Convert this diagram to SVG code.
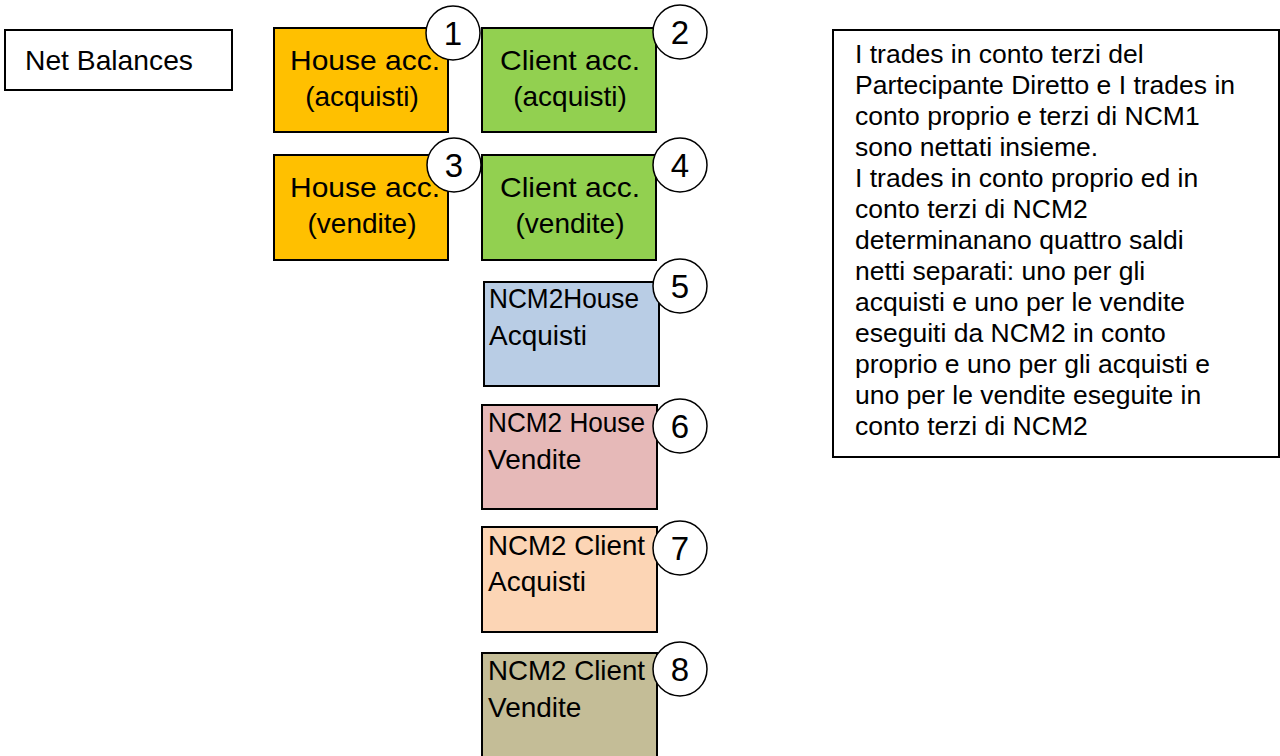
<svg xmlns="http://www.w3.org/2000/svg" width="1280" height="756" viewBox="0 0 1280 756">
<style>
text{font-family:"Liberation Sans",Arial,sans-serif;fill:#000}
.box{stroke:#000;stroke-width:2}
.lbl{font-size:28px}
.mid{text-anchor:middle}
.num{font-size:33px;text-anchor:middle}
.badge{fill:#fff;stroke:#000;stroke-width:1.5}
.note{font-size:26.5px}
</style>
<rect width="1280" height="756" fill="#fff"/>
<g id="net-balances">
<rect class="box" x="5" y="30" width="227" height="60" fill="#fff"/>
<text class="lbl" x="25" y="70" textLength="168" lengthAdjust="spacingAndGlyphs">Net Balances</text>
</g>
<g id="house-acquisti">
<rect class="box" x="274" y="28" width="174" height="104" fill="#FFC000"/>
<text class="lbl mid" x="365" y="70" textLength="150" lengthAdjust="spacingAndGlyphs">House acc.</text>
<text class="lbl mid" x="362" y="106">(acquisti)</text>
</g>
<g id="badge-1"><circle class="badge" cx="453" cy="33" r="27"/><text class="num" x="453" y="45">1</text></g>
<g id="client-acquisti">
<rect class="box" x="482" y="28" width="174" height="104" fill="#92D050"/>
<text class="lbl mid" x="570" y="70" textLength="140" lengthAdjust="spacingAndGlyphs">Client acc.</text>
<text class="lbl mid" x="570" y="106">(acquisti)</text>
</g>
<g id="badge-2"><circle class="badge" cx="680" cy="32" r="27"/><text class="num" x="680" y="44">2</text></g>
<g id="house-vendite">
<rect class="box" x="274" y="155" width="174" height="105" fill="#FFC000"/>
<text class="lbl mid" x="365" y="197" textLength="150" lengthAdjust="spacingAndGlyphs">House acc.</text>
<text class="lbl mid" x="362" y="233">(vendite)</text>
</g>
<g id="badge-3"><circle class="badge" cx="454" cy="165" r="27"/><text class="num" x="454" y="177">3</text></g>
<g id="client-vendite">
<rect class="box" x="482" y="155" width="174" height="105" fill="#92D050"/>
<text class="lbl mid" x="570" y="197" textLength="140" lengthAdjust="spacingAndGlyphs">Client acc.</text>
<text class="lbl mid" x="570" y="233">(vendite)</text>
</g>
<g id="badge-4"><circle class="badge" cx="680" cy="165" r="27"/><text class="num" x="680" y="177">4</text></g>
<g id="ncm2-house-acquisti">
<rect class="box" x="484" y="282" width="175" height="104" fill="#B9CDE5"/>
<text class="lbl" x="489" y="308" textLength="150" lengthAdjust="spacingAndGlyphs">NCM2House</text>
<text class="lbl" x="489" y="345">Acquisti</text>
</g>
<g id="badge-5"><circle class="badge" cx="680" cy="286" r="27"/><text class="num" x="680" y="298">5</text></g>
<g id="ncm2-house-vendite">
<rect class="box" x="482" y="405" width="175" height="104" fill="#E6B9B8"/>
<text class="lbl" x="488" y="432" textLength="157" lengthAdjust="spacingAndGlyphs">NCM2 House</text>
<text class="lbl" x="488" y="469">Vendite</text>
</g>
<g id="badge-6"><circle class="badge" cx="680" cy="426" r="27"/><text class="num" x="680" y="438">6</text></g>
<g id="ncm2-client-acquisti">
<rect class="box" x="482" y="527" width="175" height="105" fill="#FCD5B5"/>
<text class="lbl" x="488" y="555" textLength="157" lengthAdjust="spacingAndGlyphs">NCM2 Client</text>
<text class="lbl" x="488" y="591">Acquisti</text>
</g>
<g id="badge-7"><circle class="badge" cx="680" cy="548" r="27"/><text class="num" x="680" y="560">7</text></g>
<g id="ncm2-client-vendite">
<rect class="box" x="482" y="653" width="175" height="110" fill="#C4BD97"/>
<text class="lbl" x="488" y="680" textLength="157" lengthAdjust="spacingAndGlyphs">NCM2 Client</text>
<text class="lbl" x="488" y="717">Vendite</text>
</g>
<g id="badge-8"><circle class="badge" cx="680" cy="669" r="27"/><text class="num" x="680" y="681">8</text></g>
<g id="note">
<rect class="box" x="833" y="30" width="446" height="427" fill="#fff"/>
<text class="note">
<tspan x="855" y="63">I trades in conto terzi del</tspan>
<tspan x="855" y="94">Partecipante Diretto e I trades in</tspan>
<tspan x="855" y="125">conto proprio e terzi di NCM1</tspan>
<tspan x="855" y="156">sono nettati insieme.</tspan>
<tspan x="855" y="187">I trades in conto proprio ed in</tspan>
<tspan x="855" y="218">conto terzi di NCM2</tspan>
<tspan x="855" y="249">determinanano quattro saldi</tspan>
<tspan x="855" y="280">netti separati: uno per gli</tspan>
<tspan x="855" y="311">acquisti e uno per le vendite</tspan>
<tspan x="855" y="342">eseguiti da NCM2 in conto</tspan>
<tspan x="855" y="373">proprio e uno per gli acquisti e</tspan>
<tspan x="855" y="404">uno per le vendite eseguite in</tspan>
<tspan x="855" y="435">conto terzi di NCM2</tspan>
</text>
</g>
<g id="connectors"/>
</svg>
